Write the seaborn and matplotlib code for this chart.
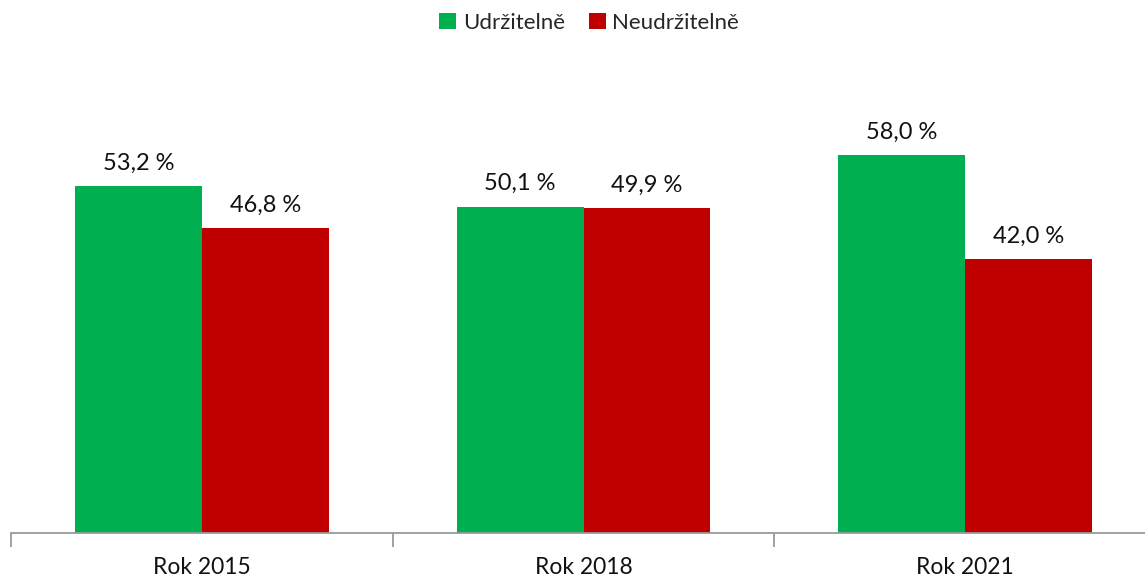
import matplotlib
matplotlib.use("Agg")
import matplotlib.pyplot as plt
import seaborn as sns
import pandas as pd

years = ["Rok 2015", "Rok 2018", "Rok 2021"]
series_names = ["Udržitelně", "Neudržitelně"]
sustainable = [53.2, 50.1, 58.0]
unsustainable = [46.8, 49.9, 42.0]
colors = ["#00B050", "#C00000"]

df = pd.DataFrame({
    "rok": years * 2,
    "skupina": [series_names[0]] * 3 + [series_names[1]] * 3,
    "podil": sustainable + unsustainable,
})

sns.set_theme(style="white")
plt.rcParams["font.family"] = ["Lato", "DejaVu Sans"]

fig = plt.figure(figsize=(11.45, 5.78), dpi=100)
ax = fig.add_axes([11 / 1145, 45 / 578, 1145 / 1145, 456 / 578])

sns.barplot(data=df, x="rok", y="podil", hue="skupina", hue_order=series_names,
            palette=colors, width=0.665, saturation=1, linewidth=0,
            ax=ax, legend=True)

for cont in ax.containers:
    labels = [f"{v:.1f} %".replace(".", ",") for v in cont.datavalues]
    ax.bar_label(cont, labels=labels, padding=9, fontsize=17, color="#111111")

ax.set_ylim(0, 70)
ax.set_xlim(-0.5, 2.5)
ax.set_yticks([])
ax.set_ylabel("")
ax.set_xlabel("")
for side in ["top", "right", "left"]:
    ax.spines[side].set_visible(False)
ax.spines["bottom"].set_color("#9a9a9a")
ax.spines["bottom"].set_linewidth(1.3)

# category boundaries as ticks, labels centred in each category
ax.set_xticks([-0.5, 0.5, 1.5, 2.5])
ax.set_xticklabels([])
ax.tick_params(axis="x", which="major", length=10, width=1.3, color="#9a9a9a",
               direction="out", bottom=True)
ax.set_xticks([0, 1, 2], minor=True)
ax.set_xticklabels(years, minor=True, fontsize=16.5, color="#111111")
ax.tick_params(axis="x", which="minor", length=0, pad=17)

handles, lbls = ax.get_legend_handles_labels()
ax.legend(handles, lbls, loc="upper center", bbox_to_anchor=(0.505, 1 + 84 / 456),
          ncol=2, frameon=False, fontsize=16, handlelength=0.75, handleheight=0.75,
          handletextpad=0.3, columnspacing=1.1)

fig.savefig("out.png", dpi=100)
